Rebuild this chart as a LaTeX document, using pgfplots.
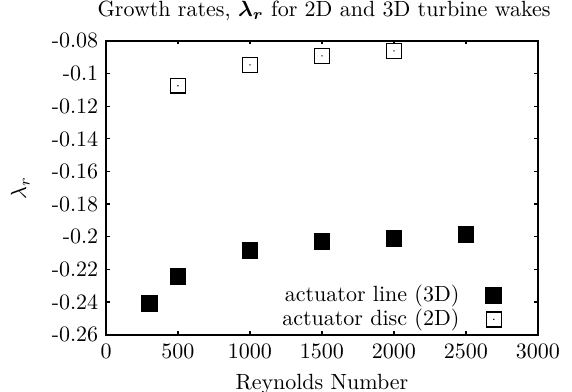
\documentclass[border=0pt]{standalone}
\usepackage{pgfplots}
\pgfplotsset{compat=1.18}
\pgfdeclareplotmark{sqdot}{%
  \pgfpathrectangle{\pgfpoint{-\pgfplotmarksize}{-\pgfplotmarksize}}{\pgfpoint{2\pgfplotmarksize}{2\pgfplotmarksize}}%
  \pgfusepathqstroke
  \pgfpathcircle{\pgfpointorigin}{0.35pt}%
  \pgfusepathqfill}
\begin{document}
\begin{tikzpicture}
\begin{axis}[
  scale only axis,
  width=196.4pt, height=133.6pt,
  xmin=0, xmax=3000, ymin=-0.26, ymax=-0.08,
  xtick={0,500,1000,1500,2000,2500,3000},
  xticklabel style={/pgf/number format/1000 sep={}, yshift=-1pt},
  ytick={-0.26,-0.24,-0.22,-0.2,-0.18,-0.16,-0.14,-0.12,-0.1,-0.08},
  yticklabels={{-0.26},{-0.24},{-0.22},{-0.2},{-0.18},{-0.16},{-0.14},{-0.12},{-0.1},{-0.08}},
  scaled y ticks=false,
  axis line style={line width=0.8pt},
  tick style={line width=0.6pt, black},
  major tick length=1.6pt,
  xlabel={Reynolds Number},
  ylabel={$\lambda_r$},
  ylabel style={at={(rel axis cs:-0.1985,0.5)}, anchor=center},
  clip=false,
  legend plot pos=right,
  legend cell align=right,
  legend image code/.code={%
    \path (0pt,0pt) (17.5pt,0pt);
    \draw[#1] plot coordinates {(13.3pt,0pt)};},
  legend style={draw=none, fill=none, at={(rel axis cs:1,0)}, anchor=south east,
    xshift=-12.3pt, yshift=-0.7pt, row sep=0pt, inner xsep=3pt, inner ysep=2pt,
    nodes={inner xsep=2pt, inner ysep=1pt}},
]
\addplot[only marks, mark=square*, mark size=3.6pt, black] coordinates {
  (300,-0.241) (500,-0.2244) (1000,-0.2083) (1500,-0.2028) (2000,-0.2011) (2500,-0.1987)
};
\addlegendentry{actuator line (3D)}
\addplot[only marks, mark=sqdot, mark size=3.4pt, black, line width=0.7pt] coordinates {
  (500,-0.1075) (1000,-0.0947) (1500,-0.0892) (2000,-0.0861)
};
\addlegendentry{actuator disc (2D)}
\node[anchor=base] at (rel axis cs:0.505,1) [yshift=11pt] {Growth rates, {\boldmath$\lambda_r$} for 2D and 3D turbine wakes};
\end{axis}
\pgfresetboundingbox
\path[use as bounding box] ([shift={(-48.2pt,-25.9pt)}]current axis.south west) rectangle ([shift={(15.5pt,18.6pt)}]current axis.north east);
\end{tikzpicture}
\end{document}
